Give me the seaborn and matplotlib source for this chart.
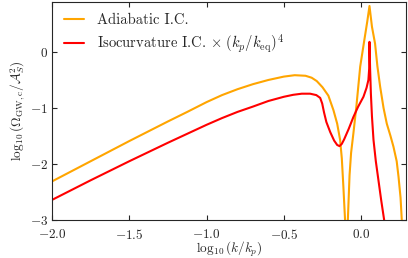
import matplotlib
matplotlib.use('Agg')
import matplotlib.pyplot as plt
import numpy as np
import pandas as pd
import seaborn as sns

orange = '#FFA500'
red = '#FF0000'

# log10(k/k_p) and log10(Omega/A_S^2)
adi_x = [-2.0, -1.75, -1.5, -1.25, -1.125, -1.0, -0.9, -0.8, -0.7, -0.6,
         -0.5, -0.43, -0.36, -0.32, -0.287,
         -0.25, -0.212, -0.179, -0.155, -0.136, -0.125, -0.115, -0.104, -0.095,
         -0.09, -0.086, -0.075, -0.065, -0.05, -0.03, -0.006, 0.02, 0.04, 0.054,
         0.07, 0.09, 0.105, 0.123, 0.145, 0.166, 0.19, 0.209, 0.23, 0.242, 0.255,
         0.263, 0.27]
adi_y = [-2.31, -1.95, -1.59, -1.24, -1.07, -0.895, -0.77, -0.665, -0.575, -0.50,
         -0.44, -0.415, -0.425, -0.46, -0.52,
         -0.63, -0.78, -1.04, -1.28, -1.57, -1.9, -2.4, -3.0, -3.4,
         -3.4, -3.0, -2.2, -1.8, -1.45, -0.95, -0.26, 0.2, 0.55, 0.82,
         0.45, 0.15, -0.25, -0.62, -1.0, -1.28, -1.5, -1.69, -1.95, -2.23, -2.6,
         -3.0, -3.3]

iso_x = [-2.0, -1.75, -1.5, -1.25, -1.0, -0.9, -0.8, -0.7, -0.6, -0.5,
         -0.44, -0.384, -0.33, -0.29, -0.265,
         -0.252, -0.24, -0.225, -0.2, -0.175, -0.155, -0.14, -0.125, -0.11,
         -0.08, -0.05, -0.02, 0.015, 0.035, 0.047, 0.052, 0.054,
         0.058, 0.063, 0.07, 0.08, 0.095, 0.112, 0.13, 0.149, 0.16]
iso_y = [-2.64, -2.29, -1.95, -1.62, -1.30, -1.18, -1.07, -0.975, -0.875, -0.80,
         -0.765, -0.745, -0.745, -0.77, -0.82,
         -0.92, -1.08, -1.25, -1.43, -1.58, -1.66, -1.68, -1.64, -1.56,
         -1.37, -1.16, -0.98, -0.8, -0.64, -0.5, -0.3, 0.18,
         -0.3, -0.74, -1.15, -1.57, -1.95, -2.29, -2.65, -3.0, -3.2]

labels = ['Adiabatic I.C.', r'Isocurvature I.C. $\times\ (k_p/k_{\rm eq})^4$']

df = pd.concat([
    pd.DataFrame({'x': adi_x, 'y': adi_y, 'case': labels[0]}),
    pd.DataFrame({'x': iso_x, 'y': iso_y, 'case': labels[1]}),
])

sns.set_style('ticks')
plt.rcParams['font.family'] = 'serif'
plt.rcParams['font.serif'] = ['cmr10', 'DejaVu Serif']
plt.rcParams['mathtext.fontset'] = 'cm'
plt.rcParams['axes.formatter.use_mathtext'] = True
plt.rcParams['font.size'] = 10

fig = plt.figure(figsize=(4.08, 2.58), dpi=100)
ax = fig.add_axes([0.1275, 0.147, 0.8675, 0.845])

sns.lineplot(data=df, x='x', y='y', hue='case', palette=[orange, red],
             sort=False, estimator=None, lw=1.5, ax=ax)

ax.set_xlim(-2.0, 0.29)
ax.set_ylim(-3, 0.89)
ax.set_xticks([-2.0, -1.5, -1.0, -0.5, 0.0])
ax.set_yticks([-3, -2, -1, 0])
ax.tick_params(direction='in', top=True, right=True, labelsize=9.5,
               length=3.5, width=0.8)
ax.tick_params(axis='x', pad=5.5)
ax.tick_params(axis='y', pad=3)
ax.set_xlabel(r'$\log_{10}(k/k_p)$', fontsize=9.5, labelpad=-1)
ax.set_ylabel(r'$\log_{10}(\Omega_{\rm GW,c}/\mathcal{A}_S^2)$', fontsize=9.5, labelpad=2)
for s in ax.spines.values():
    s.set_linewidth(0.8)

ax.legend(title=None, frameon=False, loc='upper left', fontsize=10.5,
          handlelength=1.4, handletextpad=0.9, borderaxespad=0.4,
          labelspacing=0.35)

plt.savefig('out.png', dpi=100)
